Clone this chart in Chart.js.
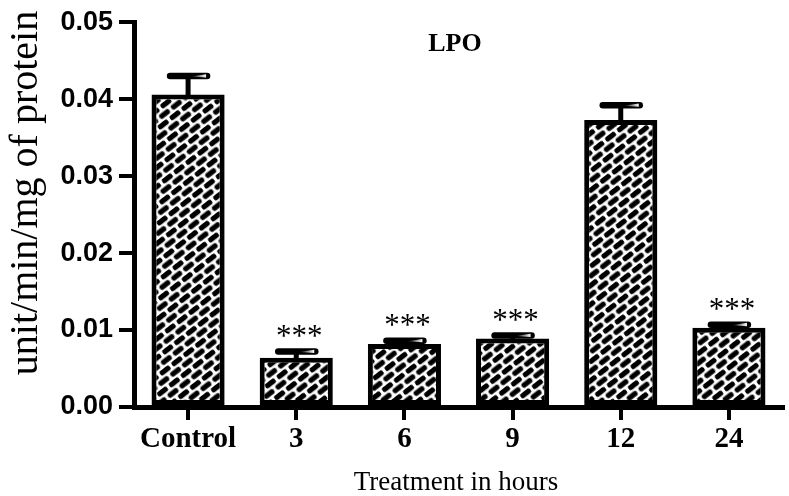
<!DOCTYPE html>
<html>
<head>
<meta charset="utf-8">
<script src="https://cdn.jsdelivr.net/npm/chart.js@4.4.1/dist/chart.umd.min.js"></script>
<style>
html,body{margin:0;padding:0;background:#fff;}
#wrap{width:789px;height:496px;position:relative;}
</style>
</head>
<body>
<div id="wrap"><canvas id="c"></canvas></div>
<script>
const categories = ['Control', '3', '6', '9', '12', '24'];
const meanValues = [0.0406, 0.0064, 0.0082, 0.0089, 0.0373, 0.0103];
const semValues  = [0.0024, 0.0008, 0.0004, 0.0004, 0.0019, 0.0004];
const significance = ['', '***', '***', '***', '', '***'];
const yTickValues = [0, 0.01, 0.02, 0.03, 0.04, 0.05];
const chartTitle = 'LPO';
const xTitle = 'Treatment in hours';
const yTitle = 'unit/min/mg of protein';

const canvas = document.getElementById('c');
const ctx0 = canvas.getContext('2d');

function roundRect(g, x, y, w, h, r) {
  g.beginPath();
  g.moveTo(x + r, y);
  g.lineTo(x + w - r, y);
  g.arcTo(x + w, y, x + w, y + r, r);
  g.lineTo(x + w, y + h - r);
  g.arcTo(x + w, y + h, x + w - r, y + h, r);
  g.lineTo(x + r, y + h);
  g.arcTo(x, y + h, x, y + h - r, r);
  g.lineTo(x, y + r);
  g.arcTo(x, y, x + r, y, r);
  g.closePath();
  g.fill();
}

function makePattern() {
  const W = 15, H = 15;
  const c = document.createElement('canvas');
  c.width = W; c.height = H;
  const g = c.getContext('2d');
  g.fillStyle = '#fff';
  g.fillRect(0, 0, W, H);
  g.fillStyle = '#000';
  roundRect(g, 1, 1, 12, 5.3, 1.8);
  roundRect(g, 8.5, 8.5, 12, 5.3, 1.8);
  roundRect(g, -6.5, 8.5, 12, 5.3, 1.8);
  const p = ctx0.createPattern(c, 'repeat');
  if (p.setTransform) p.setTransform(new DOMMatrix().rotateSelf(-38));
  return p;
}
const brickPattern = makePattern();

const errorBarPlugin = {
  id: 'errorBars',
  afterDatasetsDraw(chart) {
    const ctx = chart.ctx;
    const yScale = chart.scales.y;
    const meta = chart.getDatasetMeta(0);
    ctx.save();
    meta.data.forEach((bar, i) => {
      const x = bar.x;
      const yTop = bar.y;
      const yErr = yScale.getPixelForValue(meanValues[i] + semValues[i]);
      ctx.strokeStyle = '#000';
      ctx.lineWidth = 5;
      ctx.lineCap = 'butt';
      ctx.beginPath();
      ctx.moveTo(x, yTop + 2);
      ctx.lineTo(x, yErr);
      ctx.stroke();
      ctx.lineWidth = 6.5;
      ctx.lineCap = 'round';
      ctx.beginPath();
      ctx.moveTo(x - 18, yErr);
      ctx.lineTo(x + 19, yErr);
      ctx.stroke();
      const grad = ctx.createLinearGradient(x + 3, 0, x + 18, 0);
      grad.addColorStop(0, 'rgba(255,255,255,0)');
      grad.addColorStop(1, 'rgba(255,255,255,1)');
      ctx.fillStyle = grad;
      ctx.beginPath();
      ctx.moveTo(x + 3, yErr + 0.5);
      ctx.lineTo(x + 18, yErr - 1.8);
      ctx.lineTo(x + 18, yErr + 1.5);
      ctx.closePath();
      ctx.fill();
      if (significance[i]) {
        ctx.fillStyle = '#000';
        ctx.font = '31px "Liberation Serif"';
        ctx.textAlign = 'center';
        ctx.textBaseline = 'middle';
        ctx.fillText(significance[i], x + 3, yErr - 14);
      }
    });
    ctx.restore();
  }
};

const textPlugin = {
  id: 'texts',
  afterDraw(chart) {
    const ctx = chart.ctx;
    ctx.save();
    ctx.fillStyle = '#000';
    ctx.textAlign = 'center';
    ctx.textBaseline = 'middle';
    ctx.font = 'bold 26px "Liberation Serif"';
    ctx.fillText(chartTitle, 455, 44);
    ctx.font = '27px "Liberation Serif"';
    ctx.fillText(xTitle, 456, 483);
    ctx.translate(26, 193);
    ctx.rotate(-Math.PI / 2);
    ctx.font = '40px "Liberation Serif"';
    ctx.fillText(yTitle, 0, 0);
    ctx.restore();
  }
};

new Chart(canvas, {
  type: 'bar',
  data: {
    labels: categories,
    datasets: [{
      data: meanValues,
      backgroundColor: brickPattern,
      borderColor: '#000',
      borderWidth: 5,
      borderSkipped: false,
      categoryPercentage: 1.0,
      barPercentage: 0.676
    }]
  },
  options: {
    responsive: true,
    maintainAspectRatio: false,
    animation: false,
    devicePixelRatio: 1,
    layout: { padding: { top: 18, right: 6, left: 0, bottom: 0 } },
    plugins: { legend: { display: false }, tooltip: { enabled: false }, title: { display: false } },
    scales: {
      x: {
        type: 'category',
        offset: true,
        afterFit(scale) { scale.height = 89; },
        grid: {
          offset: false,
          drawOnChartArea: false,
          drawTicks: true,
          tickLength: 13,
          lineWidth: 4,
          color: '#000'
        },
        border: { display: true, width: 5, color: '#000' },
        ticks: {
          color: '#000',
          padding: 2,
          maxRotation: 0,
          font: { family: '"Liberation Serif"', size: 29, weight: 'bold' }
        }
      },
      y: {
        min: 0,
        max: 0.05,
        afterFit(scale) { scale.width = 134; },
        afterBuildTicks(scale) { scale.ticks = yTickValues.map(v => ({ value: v })); },
        grid: {
          drawOnChartArea: false,
          drawTicks: true,
          tickLength: 15,
          lineWidth: 4,
          color: '#000'
        },
        border: { display: true, width: 5, color: '#000' },
        ticks: {
          color: '#000',
          padding: 6,
          callback: v => Number(v).toFixed(2),
          font: { family: '"Liberation Sans"', size: 27, weight: 'bold' }
        }
      }
    }
  },
  plugins: [errorBarPlugin, textPlugin]
});
</script>
</body>
</html>
